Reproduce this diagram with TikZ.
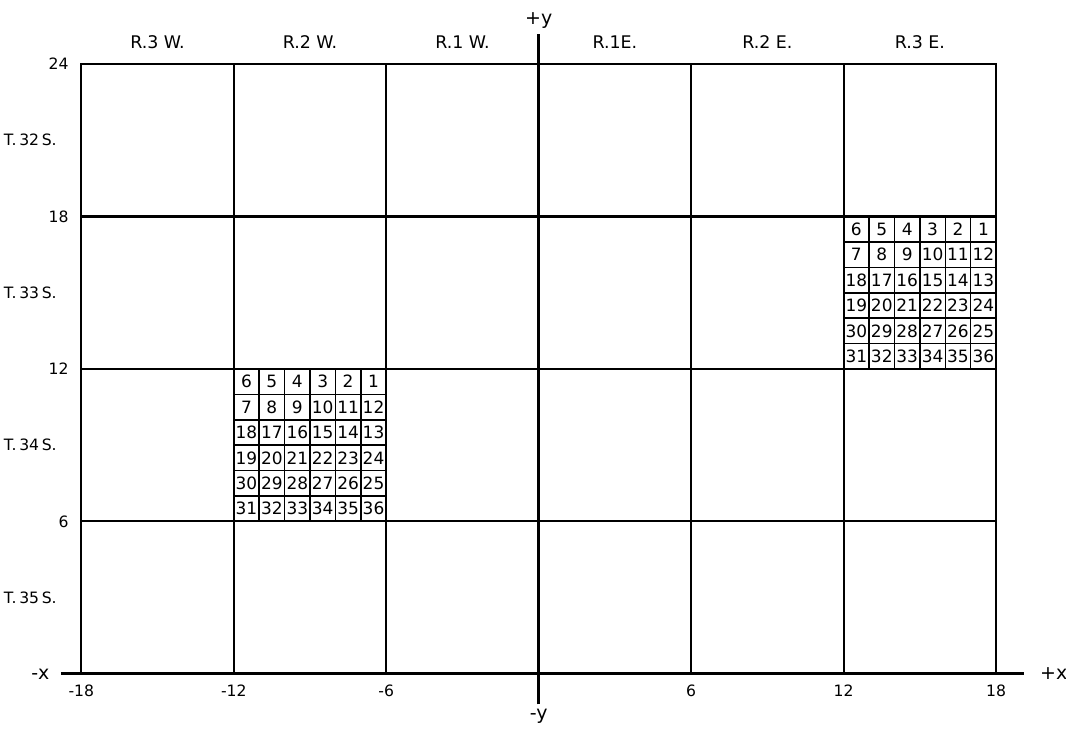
\documentclass[tikz,border=0pt]{standalone}
\usepackage{fontspec}
\setmainfont{DejaVu Sans}
\usetikzlibrary{positioning}
\tikzset{
    % Line styles
    townline/.style={
        draw=black,
        line width=0.9pt
    },
    axisline/.style={
        draw=black,
        line width=1.3pt
    },
    secline/.style={
        draw=black,
        line width=0.7pt
    },
    % Label styles
    rangelabel/.style={
        inner sep=1pt,
        font=\fontsize{7.8}{9}\selectfont
    },
    townlabel/.style={
        anchor=east,
        inner sep=0pt,
        font=\fontsize{7}{9}\selectfont
    },
    ticklabel/.style={
        inner sep=1pt,
        font=\fontsize{7}{9}\selectfont
    },
    axislabel/.style={
        inner sep=1pt,
        font=\fontsize{8.5}{10}\selectfont
    },
    seclabel/.style={
        inner sep=0pt,
        font=\fontsize{7.6}{9}\selectfont
    }
}
\begin{document}
\begin{tikzpicture}[x=0.4cm, y=0.4cm]
    \useasboundingbox (-21.2,-2.22) rectangle (20.75,26.52);

    % township and range lines
    \draw[townline] (-18,0) rectangle (18,24);
    \foreach \gx in {-12,-6,6,12}
        \draw[townline] (\gx,0) -- (\gx,24);
    \foreach \gy in {6,12,18}
        \draw[townline] (-18,\gy) -- (18,\gy);

    % axes
    \coordinate (xleft) at (-18.8,0);
    \coordinate (xright) at (19.1,0);
    \coordinate (ybot) at (0,-1.2);
    \coordinate (ytop) at (0,25.2);
    \draw[axisline] (xleft) -- (xright);
    \draw[axisline] (ybot) -- (ytop);
    \node[axislabel, left=4pt of xleft] (minusx) {-x};
    \node[axislabel, right=6pt of xright] (plusx) {+x};
    \node[axislabel, above=1pt of ytop] (plusy) {+y};
    \node[axislabel, below=1pt of ybot] (minusy) {-y};

    % tick labels
    \foreach \tx in {-18,-12,-6,6,12,18}
        \node[ticklabel] (xt\tx) at (\tx,-0.65) {\tx};
    \foreach \ty in {6,12,18,24}
        \node[ticklabel, anchor=east] (yt\ty) at (-18.4,\ty) {\ty};

    % range labels
    \foreach \rx/\rname/\rtext in {-15/r3w/R.3 W., -9/r2w/R.2 W., -3/r1w/R.1 W.,
                                   3/r1e/R.1E., 9/r2e/R.2 E., 15/r3e/R.3 E.}
        \node[rangelabel] (\rname) at (\rx,24.85) {\rtext};

    % township labels
    \foreach \ty/\tnum in {21/32, 15/33, 9/34, 3/35}
        \node[townlabel] (t\tnum) at (-18.95,\ty) {T.\hspace{1.2pt}\tnum\hspace{1.2pt}S.};

    % sections of two townships
    \foreach \ox/\oy/\tw in {-12/6/a, 12/12/b} {
        \draw[secline] (\ox,\oy) grid[step=1] (\ox+6,\oy+6);
        \foreach \r in {0,...,5}
            \foreach \c in {0,...,5} {
                \pgfmathtruncatemacro{\secnum}{mod(\r,2)==1 ? 6*\r+1+\c : 6*\r+6-\c}
                \node[seclabel] (\tw-\secnum) at (\ox+\c+0.5,\oy+5.5-\r) {\secnum};
            }
    }
\end{tikzpicture}
\end{document}
